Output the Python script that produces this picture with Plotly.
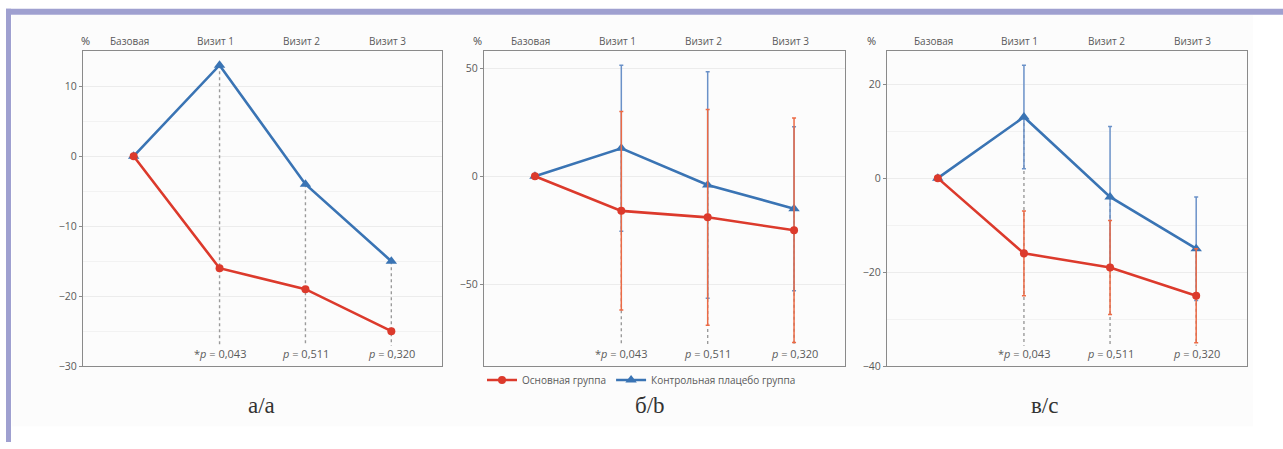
import plotly.graph_objects as go

# ---- data -------------------------------------------------------------
visits = ["Базовая", "Визит 1", "Визит 2", "Визит 3"]
main_mean = [0, -16, -19, -25]        # Основная группа, % change
placebo_mean = [0, 13, -4, -15]       # Контрольная плацебо группа, % change
main_sd = [0, 46, 50, 52]
placebo_sd = [0, 38.5, 52.5, 38]
main_se = [0, 9, 10, 10]
placebo_se = [0, 11, 15, 11]
p_labels = ["*<i>p</i> = 0,043", "<i>p</i> = 0,511", "<i>p</i> = 0,320"]
panel_captions = ["а/a", "б/b", "в/с"]
series_names = ["Основная группа", "Контрольная плацебо группа"]

# ---- layout helpers ----------------------------------------------------
W, H = 1283, 449


def px_x(v):
    return v / W


def px_y(v):
    return 1 - v / H


RED = "#dc3a2c"
RED_ERR = "#ec6a45"
BLUE = "#3a74b4"
BLUE_ERR = "#6a91c8"
GRID = "#ececec"
AXIS = "#8a8a8a"
TXT = "#5a5a5a"
FONT = "Open Sans"

panels = [
    # x pixel span of plot area, y range, major tick, minor grid, error arrays
    dict(xs=(83, 442), yr=(-30, 15), dtick=10, minor=5, err=None, pct=79, cap=246),
    dict(xs=(484, 845), yr=(-88, 58), dtick=50, minor=None, err=(main_sd, placebo_sd), pct=477, cap=650),
    dict(xs=(887, 1247), yr=(-40, 27), dtick=20, minor=10, err=(main_se, placebo_se), pct=878, cap=1060),
]
PLOT_TOP, PLOT_BOTTOM = 52, 372
xidx = list(range(len(visits)))
XRANGE = (-0.59, 3.59)

fig = go.Figure()
annotations = []
layout_axes = {}

for i, p in enumerate(panels):
    n = "" if i == 0 else str(i + 1)
    xa, ya = "x" + n, "y" + n
    ymin, ymax = p["yr"]
    line_bottom = ymin + 0.065 * (ymax - ymin)

    # dotted guide lines from the placebo mean down to the p-value labels
    for k in range(1, len(visits)):
        fig.add_trace(go.Scatter(
            x=[xidx[k], xidx[k]], y=[placebo_mean[k], line_bottom],
            mode="lines", line=dict(color="#9a9a9a", width=1.4, dash="dot"),
            xaxis=xa, yaxis=ya, showlegend=False, hoverinfo="skip"))

    err_main = err_pl = None
    if p["err"] is not None:
        err_main = dict(type="data", array=p["err"][0], color=RED_ERR, thickness=1.5, width=2)
        err_pl = dict(type="data", array=p["err"][1], color=BLUE_ERR, thickness=1.5, width=2)

    fig.add_trace(go.Scatter(
        x=xidx, y=placebo_mean, mode="lines+markers", name=series_names[1],
        line=dict(color=BLUE, width=2.6),
        marker=dict(symbol="triangle-up", size=10, color=BLUE),
        error_y=err_pl, xaxis=xa, yaxis=ya, showlegend=(i == 1), legendrank=2))
    fig.add_trace(go.Scatter(
        x=xidx, y=main_mean, mode="lines+markers", name=series_names[0],
        line=dict(color=RED, width=2.6),
        marker=dict(symbol="circle", size=8, color=RED),
        error_y=err_main, xaxis=xa, yaxis=ya, showlegend=(i == 1), legendrank=1))

    dom_x = [px_x(p["xs"][0]), px_x(p["xs"][1])]
    dom_y = [px_y(PLOT_BOTTOM), px_y(PLOT_TOP)]
    layout_axes["xaxis" + n] = dict(
        domain=dom_x, range=XRANGE, showticklabels=False, showgrid=False,
        zeroline=False, showline=True, linecolor=AXIS, linewidth=1.3, mirror=True,
        ticks="", anchor=ya)
    yax = dict(
        domain=dom_y, range=[ymin, ymax], dtick=p["dtick"], tick0=0,
        showgrid=True, gridcolor=GRID, gridwidth=1, zeroline=False,
        showline=True, linecolor=AXIS, linewidth=1.3, mirror=True,
        ticks="outside", ticklen=3, tickcolor=AXIS,
        tickfont=dict(family=FONT, size=10.5, color=TXT), anchor=xa)
    if p["minor"]:
        yax["minor"] = dict(dtick=p["minor"], showgrid=True, gridcolor="#f2f2f2", ticks="")
    layout_axes["yaxis" + n] = yax

    # category labels above the plot area
    for k, lab in enumerate(visits):
        annotations.append(dict(
            x=xidx[k], y=px_y(42), xref=xa, yref="paper", yanchor="middle",
            text=lab, showarrow=False, xshift=-4,
            font=dict(family=FONT, size=10, color=TXT)))
    annotations.append(dict(
        x=px_x(p["pct"]), y=px_y(41), xref="paper", yref="paper", yanchor="middle",
        text="%", showarrow=False, font=dict(family=FONT, size=11, color="#4a4a4a")))

    # p-values
    for k, lab in enumerate(p_labels):
        annotations.append(dict(
            x=xidx[k + 1], y=px_y(359), xref=xa, yref="paper", yanchor="middle",
            text=lab, showarrow=False, font=dict(family=FONT, size=11, color=TXT)))

    # panel caption
    annotations.append(dict(
        x=px_x(p["cap"]), y=px_y(412), xref="paper", yref="paper", yanchor="middle",
        text=panel_captions[i], showarrow=False,
        font=dict(family="Liberation Serif", size=23, color="#333333")))

# lavender frame along the top and the left edge
FRAME = "#9fa0d0"
shapes = [
    dict(type="rect", xref="paper", yref="paper", x0=px_x(12), x1=px_x(1253),
         y0=px_y(433), y1=px_y(15), fillcolor="#fcfcfc", line=dict(width=0), layer="below"),
    dict(type="rect", xref="paper", yref="paper", x0=px_x(6), x1=1,
         y0=px_y(15), y1=px_y(9), fillcolor=FRAME, line=dict(width=0)),
    dict(type="rect", xref="paper", yref="paper", x0=px_x(6), x1=px_x(11),
         y0=0, y1=px_y(9), fillcolor=FRAME, line=dict(width=0)),
]

fig.update_layout(
    width=W, height=H, margin=dict(l=0, r=0, t=0, b=0),
    paper_bgcolor="white", plot_bgcolor="white",
    annotations=annotations, shapes=shapes,
    legend=dict(orientation="h", x=px_x(482), y=px_y(386), xanchor="left", yanchor="middle",
                font=dict(family=FONT, size=10, color=TXT), bgcolor="rgba(0,0,0,0)",
                traceorder="normal", itemwidth=30),
    **layout_axes,
)

fig.write_html("out.html")
